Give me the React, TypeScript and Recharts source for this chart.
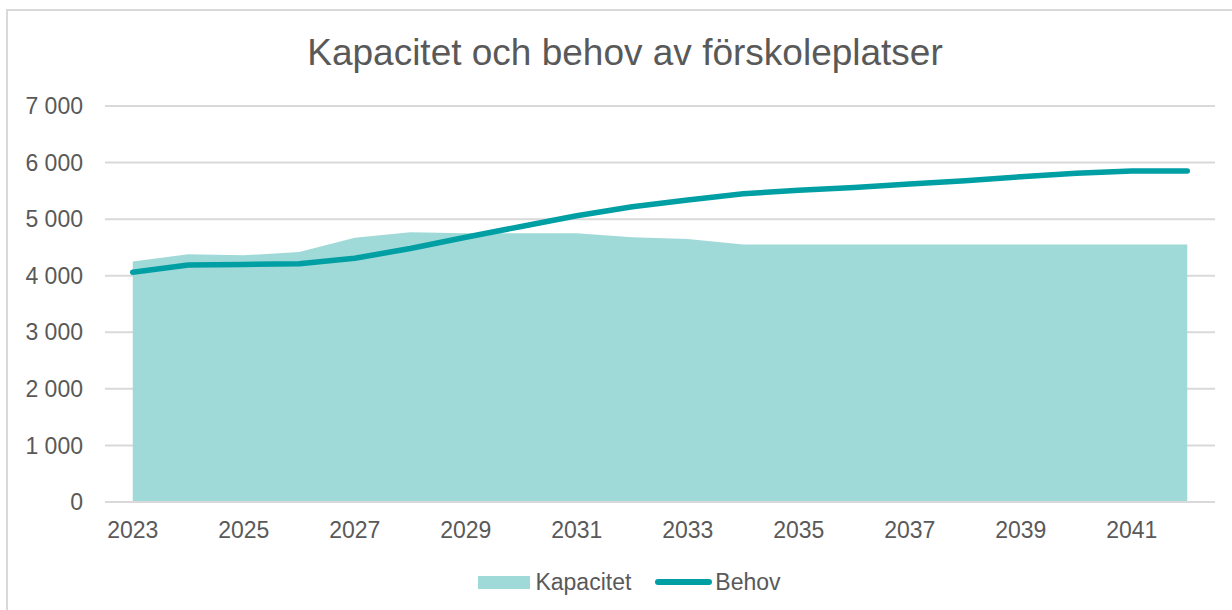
import React from "react";
import { ComposedChart, Area, Line, XAxis, YAxis, CartesianGrid, Legend } from "recharts";

const years = ["2023","2024","2025","2026","2027","2028","2029","2030","2031","2032","2033","2034","2035","2036","2037","2038","2039","2040","2041","2042"];
const kapacitet = [4250, 4380, 4360, 4420, 4670, 4770, 4750, 4750, 4750, 4680, 4650, 4550, 4550, 4550, 4550, 4550, 4550, 4550, 4550, 4550];
const behov = [4060, 4190, 4200, 4210, 4310, 4480, 4680, 4870, 5060, 5220, 5340, 5450, 5510, 5560, 5620, 5680, 5750, 5810, 5850, 5850];
const yTicks = [0, 1000, 2000, 3000, 4000, 5000, 6000, 7000];
const legendOrder = ["Kapacitet", "Behov"];

const data = years.map((y, i) => ({ year: y, Kapacitet: kapacitet[i], Behov: behov[i] }));

const FONT = "'Liberation Sans', Arial, sans-serif";
const TEXT = "#595959";
const GRID = "#d9d9d9";
const AREA = "#A0DAD8";
const LINE = "#009FA4";

const fmt = (v: number) => {
  const s = String(v);
  return s.length > 3 ? s.slice(0, s.length - 3) + " " + s.slice(s.length - 3) : s;
};

const LegendContent = (props: any) => {
  const payload = [...(props.payload || [])].sort(
    (a: any, b: any) => legendOrder.indexOf(a.value) - legendOrder.indexOf(b.value)
  );
  return (
    <div style={{ display: "flex", justifyContent: "center", alignItems: "center", paddingLeft: 27, height: 30, fontFamily: FONT, fontSize: 23, color: TEXT }}>
      {payload.map((p: any, i: number) => (
        <div key={i} style={{ display: "flex", alignItems: "center", marginLeft: i === 0 ? 0 : 24 }}>
          {p.value === "Kapacitet" ? (
            <div style={{ width: 52, height: 13, background: AREA, marginRight: 5 }} />
          ) : (
            <div style={{ width: 57, height: 6, borderRadius: 3, background: LINE, marginRight: 3 }} />
          )}
          <span>{p.value}</span>
        </div>
      ))}
    </div>
  );
};

export default function App() {
  return (
    <div style={{ position: "fixed", left: 0, top: 0, width: 1232, height: 610, overflow: "hidden", background: "#fff" }}>
      <div style={{ position: "absolute", left: 6, top: 9, width: 1240, height: 620, border: `2px solid ${GRID}` }} />
      <div style={{ position: "absolute", left: 0, top: 34, width: 1250, textAlign: "center", fontFamily: FONT, fontSize: 37, lineHeight: "37px", color: TEXT, whiteSpace: "nowrap" }}>
        Kapacitet och behov av förskoleplatser
      </div>
      <div style={{ position: "absolute", left: 0, top: 0 }}>
        <ComposedChart width={1232} height={610} data={data} margin={{ top: 106, right: 17, left: 0, bottom: 68 }}>
          <CartesianGrid vertical={false} stroke={GRID} strokeWidth={2} />
          <XAxis
            dataKey="year"
            type="category"
            scale="point"
            padding={{ left: 27.75, right: 27.75 }}
            interval={1}
            height={40}
            tickLine={false}
            tickSize={0}
            tickMargin={20}
            axisLine={{ stroke: GRID, strokeWidth: 2 }}
            tick={{ fill: TEXT, fontSize: 23, fontFamily: FONT }}
          />
          <YAxis
            domain={[0, 7000]}
            ticks={yTicks}
            tickFormatter={fmt}
            width={105}
            axisLine={false}
            tickLine={false}
            tickSize={0}
            tickMargin={22}
            tick={{ fill: TEXT, fontSize: 23, fontFamily: FONT }}
          />
          <Area
            type="linear"
            dataKey="Kapacitet"
            fill={AREA}
            fillOpacity={1}
            stroke="none"
            isAnimationActive={false}
            dot={false}
            activeDot={false}
          />
          <Line
            type="linear"
            dataKey="Behov"
            stroke={LINE}
            strokeWidth={5.5}
            strokeLinecap="round"
            strokeLinejoin="round"
            dot={false}
            activeDot={false}
            isAnimationActive={false}
          />
          <Legend
            layout="horizontal"
            verticalAlign="middle"
            align="center"
            content={LegendContent}
            wrapperStyle={{ position: "absolute", top: 567, left: 0, width: 1232 }}
          />
        </ComposedChart>
      </div>
    </div>
  );
}
